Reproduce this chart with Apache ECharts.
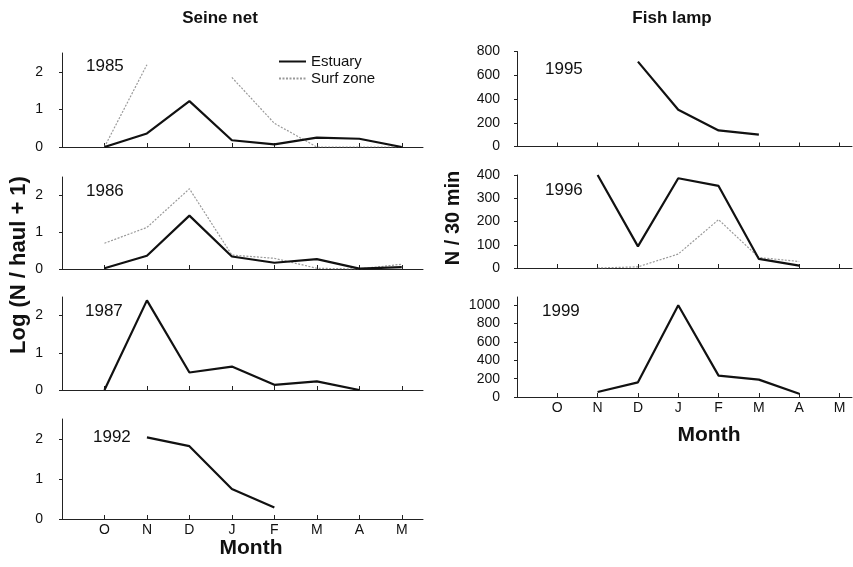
<!DOCTYPE html>
<html>
<head>
<meta charset="utf-8">
<script src="https://cdn.jsdelivr.net/npm/echarts@6/dist/echarts.min.js"></script>
<style>
  html, body { margin: 0; padding: 0; background: #fff; }
  #chart { width: 853px; height: 567px; }
</style>
</head>
<body>
<div id="chart"></div>
<script>
// Months of the sampling season, October to May
const months = ['O', 'N', 'D', 'J', 'F', 'M', 'A', 'M'];

// Seine net catches, log(N / haul + 1)
const seine1985Estuary = [0, 0.36, 1.22, 0.18, 0.07, 0.25, 0.22, 0];
const seine1985Surf    = [0, 2.19, null, 1.85, 0.63, 0, 0, 0];
const seine1986Estuary = [0.02, 0.36, 1.45, 0.34, 0.17, 0.27, 0.01, 0.05];
const seine1986Surf    = [0.70, 1.13, 2.18, 0.38, 0.29, 0.02, 0, 0.13];
const seine1987Estuary = [0, 2.41, 0.47, 0.63, 0.14, 0.23, 0, null];
const seine1992Estuary = [null, 2.04, 1.82, 0.75, 0.29, null, null, null];

// Fish lamp catches, N / 30 min
const lamp1995Estuary = [null, null, 715, 310, 135, 100, null, null];
const lamp1996Estuary = [null, 400, 93, 386, 353, 39, 10, null];
const lamp1996Surf    = [null, 0, 5, 60, 208, 45, 28, null];
const lamp1999Estuary = [null, 55, 160, 1000, 233, 189, 36, null];

const FONT = '"Liberation Sans", Arial, sans-serif';
const INK = '#111';

const leftPanels = [
  { year: '1985', top: 53,  height: 94,  yearX: 86, yearDy: 5,  estuary: seine1985Estuary, surf: seine1985Surf },
  { year: '1986', top: 177, height: 92,  yearX: 86, yearDy: 6,  estuary: seine1986Estuary, surf: seine1986Surf },
  { year: '1987', top: 297, height: 93,  yearX: 85, yearDy: 6,  estuary: seine1987Estuary, surf: null },
  { year: '1992', top: 419, height: 100, yearX: 93, yearDy: 10, estuary: seine1992Estuary, surf: null, labels: true }
];
const rightPanels = [
  { year: '1995', top: 51.5, height: 95,  max: 800,  interval: 200, yearX: 545, yearDy: 9, estuary: lamp1995Estuary, surf: null },
  { year: '1996', top: 175,  height: 93,  max: 400,  interval: 100, yearX: 545, yearDy: 7, estuary: lamp1996Estuary, surf: lamp1996Surf },
  { year: '1999', top: 297,  height: 100, max: 1090, interval: 200, yearX: 542, yearDy: 6, estuary: lamp1999Estuary, surf: null, labels: true }
];

const toPoints = arr => arr.map((v, i) => [i + 1, v == null ? '-' : v]);

const grids = [], xAxes = [], yAxes = [], series = [], graphics = [];

function addPanel(p, side) {
  const idx = grids.length;
  const isLeft = side === 'left';
  const left = isLeft ? 62 : 517;
  const width = isLeft ? 361 : 335;
  const xmax = isLeft ? 8.5 : 8.31;
  grids.push({ left: left, top: p.top, width: width, height: p.height });

  xAxes.push({
    type: 'value', gridIndex: idx, min: 0, max: xmax, interval: 1,
    axisLine: { lineStyle: { color: '#222', width: 1 } },
    axisTick: { show: true, inside: true, length: 4, lineStyle: { color: '#222' },
                customValues: [1, 2, 3, 4, 5, 6, 7, 8] },
    splitLine: { show: false },
    axisLabel: {
      show: !!p.labels, customValues: [1, 2, 3, 4, 5, 6, 7, 8],
      formatter: v => months[Math.round(v) - 1] || '',
      color: INK, fontFamily: FONT, fontSize: 14, margin: 4
    }
  });

  const ymax = isLeft ? 2.5 : p.max;
  const interval = isLeft ? 1 : p.interval;
  const ticks = [];
  for (let v = 0; v <= ymax + 1e-9; v += interval) ticks.push(v);
  yAxes.push({
    type: 'value', gridIndex: idx, min: 0, max: ymax, interval: interval,
    axisLine: { show: true, lineStyle: { color: '#222', width: 1 } },
    axisTick: { show: true, length: 3, lineStyle: { color: '#222' }, customValues: ticks },
    splitLine: { show: false },
    axisLabel: { customValues: ticks, formatter: v => String(v),
                 color: INK, fontFamily: FONT, fontSize: 14, margin: isLeft ? 19 : 17 }
  });

  series.push({
    name: 'Estuary', type: 'line', xAxisIndex: idx, yAxisIndex: idx,
    data: toPoints(p.estuary), symbol: 'none', connectNulls: false,
    lineStyle: { color: '#111', width: 2.2 }, itemStyle: { color: '#111' },
    z: 3
  });
  if (p.surf) {
    series.push({
      name: 'Surf zone', type: 'line', xAxisIndex: idx, yAxisIndex: idx,
      data: toPoints(p.surf), symbol: 'none', connectNulls: false,
      lineStyle: { color: '#9a9a9a', width: 1.2, type: [2, 1.5] }, itemStyle: { color: '#9a9a9a' },
      z: 2
    });
  }

  graphics.push({
    type: 'text', left: p.yearX, top: p.top + p.yearDy,
    style: { text: p.year, font: '17px ' + FONT, fill: INK }
  });
}

leftPanels.forEach(p => addPanel(p, 'left'));
rightPanels.forEach(p => addPanel(p, 'right'));

// Column headings and axis titles
graphics.push(
  { type: 'text', x: 220, y: 18,
    style: { text: 'Seine net', font: 'bold 17px ' + FONT, fill: INK, align: 'center', verticalAlign: 'middle' } },
  { type: 'text', x: 672, y: 18,
    style: { text: 'Fish lamp', font: 'bold 17px ' + FONT, fill: INK, align: 'center', verticalAlign: 'middle' } },
  { type: 'text', x: 19, y: 265, rotation: Math.PI / 2,
    style: { text: 'Log (N / haul + 1)', font: 'bold 22px ' + FONT, fill: INK, align: 'center', verticalAlign: 'middle' } },
  { type: 'text', x: 453, y: 218, rotation: Math.PI / 2,
    style: { text: 'N / 30 min', font: 'bold 20px ' + FONT, fill: INK, align: 'center', verticalAlign: 'middle' } },
  { type: 'text', x: 251, y: 548,
    style: { text: 'Month', font: 'bold 21px ' + FONT, fill: INK, align: 'center', verticalAlign: 'middle' } },
  { type: 'text', x: 709, y: 435,
    style: { text: 'Month', font: 'bold 21px ' + FONT, fill: INK, align: 'center', verticalAlign: 'middle' } }
);

const chart = echarts.init(document.getElementById('chart'), null, { renderer: 'canvas' });
chart.setOption({
  backgroundColor: '#fff',
  animation: false,
  grid: grids,
  xAxis: xAxes,
  yAxis: yAxes,
  series: series,
  legend: {
    data: ['Estuary', 'Surf zone'],
    orient: 'vertical', left: 273, top: 49,
    itemWidth: 27, itemHeight: 12, itemGap: 2,
    itemStyle: { opacity: 0 },
    textStyle: { color: INK, fontFamily: FONT, fontSize: 15 }
  },
  graphic: graphics
});
</script>
</body>
</html>
